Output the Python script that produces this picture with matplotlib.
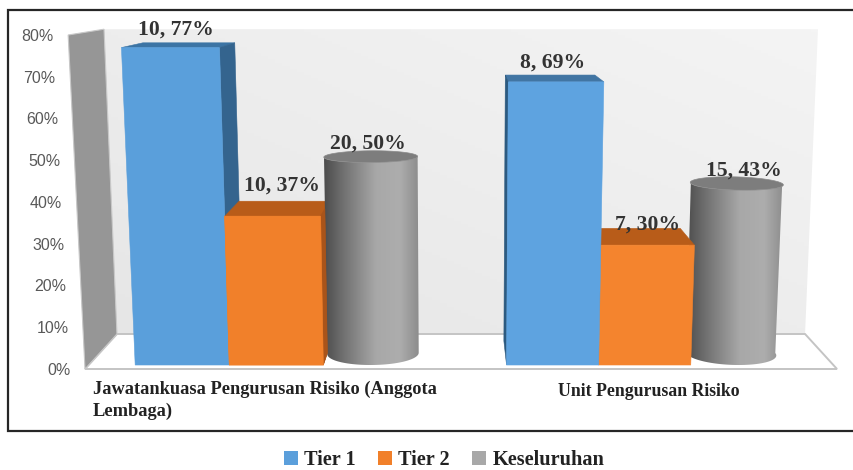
import numpy as np
from matplotlib import pyplot as plt
from matplotlib.colors import LinearSegmentedColormap
from matplotlib.patches import Patch, Polygon

categories = ['Jawatankuasa Pengurusan Risiko (Anggota\nLembaga)', 'Unit Pengurusan Risiko']
series = ['Tier 1', 'Tier 2', 'Keseluruhan']
tier1 = [76.8, 68.5]
tier2 = [36, 29]
overall = [49, 42.3]
tier1_labels = ['10, 77%', '8, 69%']
tier2_labels = ['10, 37%', '7, 30%']
overall_labels = ['20, 50%', '15, 43%']
yticks = [0, 10, 20, 30, 40, 50, 60, 70, 80]

# the axes spans the whole figure: x is in pixels, y in percent on the front plane
PX = 4.175
BASE = 369
C = 461
D0, D1 = 0.114, 0.8
DM = (D0 + D1) / 2
group_x = [132, 507]
bar_w = [95, 93]


def project(x, v, d):
    # fake perspective, d=0 is the front of the floor and d=1 the back wall
    x = np.asarray(x, dtype=float)
    v = np.asarray(v, dtype=float)
    k = 0.00056 - 0.00009 * d
    px = C + (x - C) * (1 - 0.085 * d) * (1 + k * v)
    py = v * (1 - 0.0875 * d) + 35 / PX * d
    return px, py


def face(ax, corners, color, z):
    pts = [project(*c) for c in corners]
    ax.add_patch(Polygon(pts, closed=True, fc=color, ec=color, lw=0.4, zorder=z))


def draw_box(ax, x, w, v, front, top, side, z, d_side=D1):
    x2 = x + w
    sx = x2 if x2 < C else x
    if top is not None:
        face(ax, [(x, v, D0), (x2, v, D0), (x2, v, D1), (x, v, D1)], top, z)
    face(ax, [(sx, 0, D0), (sx, v, D0), (sx, v, d_side), (sx, 0, d_side)], side, z)
    face(ax, [(x, 0, D0), (x2, 0, D0), (x2, v, D0), (x, v, D0)], front, z + 0.1)


def draw_cylinder(ax, x, w, v, z):
    r = w / 2
    cx = x + r
    dr = (D1 - D0) / 2
    t = np.linspace(0, np.pi, 60)
    # front half at the bottom, then front half at the top going back
    bx, by = project(cx - r * np.cos(t), 0 * t, DM - dr * np.sin(t))
    tx, ty = project(cx + r * np.cos(t), v + 0 * t, DM - dr * np.sin(t))
    poly = Polygon(np.c_[np.r_[bx, tx], np.r_[by, ty]], closed=True, fc='none', ec='none')
    ax.add_patch(poly)
    grad = np.linspace(0, 1, 256).reshape(1, -1)
    im = ax.imshow(grad, cmap=cyl_cmap, aspect='auto', zorder=z,
                   extent=[min(tx.min(), bx.min()), max(tx.max(), bx.max()), 0, v + 5])
    im.set_clip_path(poly)
    t2 = np.linspace(0, 2 * np.pi, 120)
    ex, ey = project(cx + r * np.cos(t2), v + 0 * t2, DM + dr * np.sin(t2))
    ax.add_patch(Polygon(np.c_[ex, ey], closed=True, fc='#7d7d7d', ec='#8a8a8a', lw=0.5, zorder=z + 0.1))


cyl_cmap = LinearSegmentedColormap.from_list(
    'cyl', [(0, '#4c4c4c'), (0.2, '#707070'), (0.55, '#a8a8a8'), (0.8, '#adadad'), (1, '#8c8c8c')])
wall_cmap = LinearSegmentedColormap.from_list('wall', ['#e6e6e6', '#f4f4f4'])

fig = plt.figure(figsize=(8.54, 4.70), dpi=100)
ax = fig.add_axes([0, 0, 1, 1])
ax.axis('off')

# back wall with a soft gradient
right = 837
wx, wy = zip(*[project(a, b, 1) for a, b in [(85, 0), (right, 0), (right, 80), (85, 80)]])
wall = Polygon(np.c_[wx, wy], closed=True, fc='none', ec='none')
ax.add_patch(wall)
grad = np.add.outer(np.linspace(1, 0, 100), np.linspace(0, 1, 100)) / 2
im = ax.imshow(grad, cmap=wall_cmap, aspect='auto', zorder=1,
               extent=[min(wx), max(wx), min(wy), max(wy)])
im.set_clip_path(wall)

# floor and left wall
fx, fy = zip(*[project(a, 0, d) for a, d in [(85, 0), (85, 1), (right, 1), (right, 0)]])
ax.add_patch(Polygon(np.c_[fx, fy], closed=True, fc='white', ec='#c4c4c4', lw=1.4, zorder=2))
lx, ly = zip(*[project(85, b, d) for b, d in [(0, 0), (80, 0), (80, 1), (0, 1)]])
ax.add_patch(Polygon(np.c_[lx, ly], closed=True, fc='#969696', ec='#c8c8c8', lw=0.8, zorder=2))

# first group: the box side runs past the cylinder, so its front slice goes on top
x, w = group_x[0], bar_w[0]
draw_box(ax, x, w, tier1[0], '#5a9fdb', '#3c74a4', '#34648e', 3)
draw_box(ax, x + w, w, tier2[0], '#f1802a', '#b85c19', '#a9541a', 4)
draw_cylinder(ax, x + 2 * w, w, overall[0], 5)
draw_box(ax, x + w, w, tier2[0], '#f1802a', None, '#a9541a', 6, d_side=DM)

# second group: sides face left, drawn back to front
x, w = group_x[1], bar_w[1]
draw_cylinder(ax, x + 2 * w + 2, w, overall[1], 3)
draw_box(ax, x + w, w, tier2[1], '#f4842e', '#b85c19', '#a9541a', 4)
draw_box(ax, x, w, tier1[1], '#5ea3e0', '#4175a3', '#2c5a80', 5)

# axis tick labels follow the slanted edge of the left wall
for t in yticks:
    px, _ = project(71, t, 0)
    ax.text(px, t - 0.3, f'{t}%', ha='right', va='center', fontsize=11.5,
            family='Liberation Sans', color='#595959', zorder=8)

# data labels, dx/dy in pixels from the bar top
label_dy = [[8, 11, 2], [7, -1, 1]]
label_dx = [[-13, -2, -6], [2, 11, 18]]
for g, x in enumerate(group_x):
    vals = [tier1[g], tier2[g], overall[g]]
    texts = [tier1_labels[g], tier2_labels[g], overall_labels[g]]
    for i in range(3):
        cx = x + (i + 0.5) * bar_w[g]
        px, py = project(cx, vals[i], D1)
        ax.text(px + label_dx[g][i], py + label_dy[g][i] / PX, texts[i], ha='center', va='baseline',
                fontsize=15.6, family='Liberation Serif', weight='bold', color='#333333', zorder=9)

ax.text(93, (BASE - 381) / PX, categories[0], ha='left', va='top', fontsize=13.2, linespacing=1.35,
        family='Liberation Serif', weight='bold', color='#222222', zorder=9)
ax.text(649, (BASE - 391) / PX, categories[1], ha='center', va='center', fontsize=12.8,
        family='Liberation Serif', weight='bold', color='#222222', zorder=9)

# frame runs off the right side of the picture
frame_top = (BASE - 10) / PX
frame_bot = (BASE - 431) / PX
ax.plot([854, 8, 8, 854], [frame_top, frame_top, frame_bot, frame_bot], color='#262626', lw=1.6,
        zorder=10, solid_joinstyle='miter')

handles = [Patch(fc='#5b9fdb', label=series[0]), Patch(fc='#f1802a', label=series[1]),
           Patch(fc='#a8a8a8', label=series[2])]
ax.legend(handles=handles, loc='center', bbox_to_anchor=(444 / 854, 1 - 460 / 470), ncol=3, frameon=False,
          prop={'family': 'Liberation Serif', 'weight': 'bold', 'size': 14.6}, labelcolor='#222222',
          handlelength=0.7, handleheight=0.7, handletextpad=0.3, columnspacing=1.1, borderpad=0)

ax.set_xlim(0, 854)
ax.set_ylim((BASE - 470) / PX, BASE / PX)
fig.savefig('out.png', dpi=100)
